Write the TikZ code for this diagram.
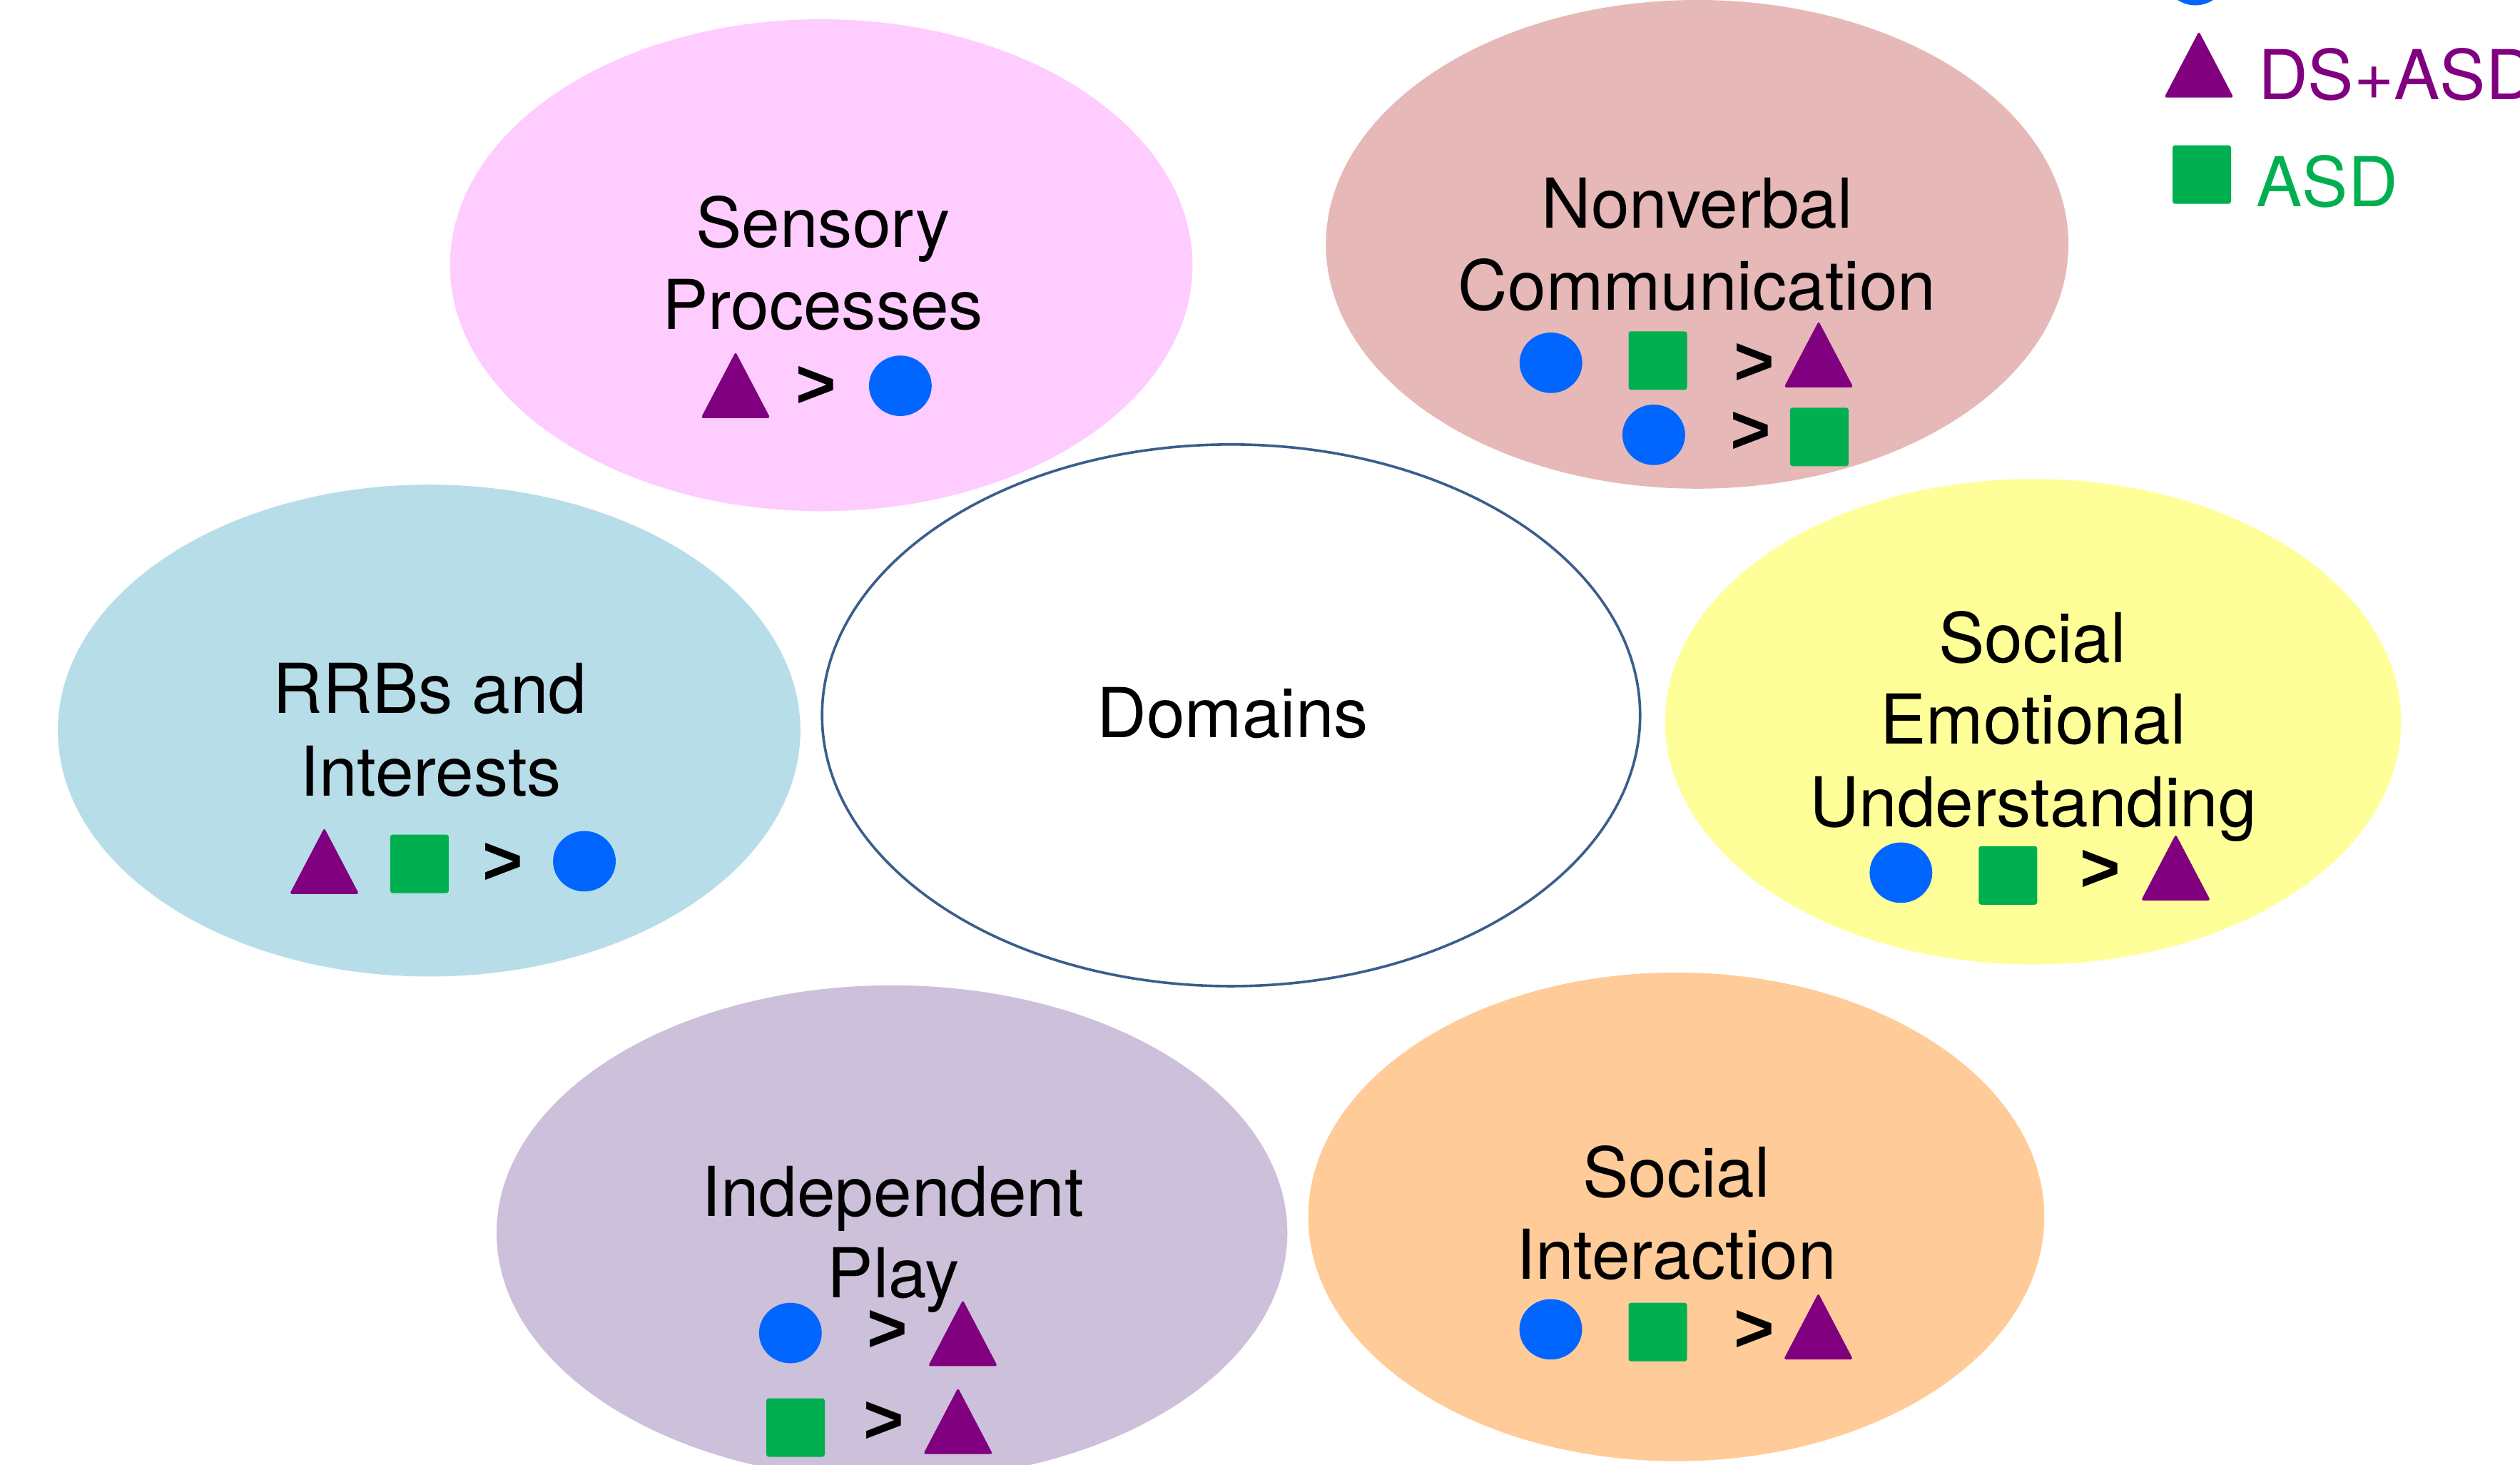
\documentclass[tikz,border=0pt]{standalone}
\usepackage{fontspec}
\setmainfont{TeX Gyre Heros}
\newfontfamily\gtfont{Liberation Sans}
\usetikzlibrary{shapes.geometric}

\definecolor{senscol}{RGB}{255,204,255}
\definecolor{nonvcol}{RGB}{230,184,183}
\definecolor{rrbcol}{RGB}{183,222,232}
\definecolor{semocol}{RGB}{255,255,153}
\definecolor{playcol}{RGB}{204,192,218}
\definecolor{sintcol}{RGB}{255,204,153}
\definecolor{domline}{RGB}{58,94,140}
\definecolor{dsblue}{RGB}{0,102,255}
\definecolor{asdgreen}{RGB}{0,176,80}
\definecolor{dsasdpurple}{RGB}{128,0,128}

\tikzset{
  blob/.style={ellipse, inner sep=0pt, draw=none},
  lbl/.style={anchor=base, inner sep=0pt, font=\fontsize{42.8}{51}\selectfont},
  gtsign/.style={inner sep=0pt, font=\gtfont\fontsize{43}{51}\selectfont\bfseries},
  legtext/.style={anchor=base west, inner sep=0pt, font=\fontsize{42.8}{51}\selectfont},
  dsdot/.pic={\fill[dsblue] (0,0) ellipse [x radius=19.5pt, y radius=18.8pt];},
  asdsq/.pic={\fill[asdgreen, rounded corners=1.5pt] (-18.2,-18.2) rectangle (18.2,18.2);},
  dsasdtri/.pic={\fill[dsasdpurple, rounded corners=1.5pt] (0,-20.6) -- (21.6,20.6) -- (-21.6,20.6) -- cycle;}
}

\begin{document}
\begin{tikzpicture}[x=1pt, y=-1pt]
  \useasboundingbox (0,0) rectangle (1568,911);
  \clip (0,0) rectangle (1568,911);
  \fill[white] (0,0) rectangle (1568,911);

  % domain ellipses
  \node[blob, fill=senscol, minimum width=462pt, minimum height=306pt] (sens) at (511,165) {};
  \node[blob, fill=nonvcol, minimum width=462pt, minimum height=304pt] (nonv) at (1056,152) {};
  \node[blob, fill=rrbcol, minimum width=462pt, minimum height=306pt] (rrb) at (267,454.5) {};
  \node[blob, fill=semocol, minimum width=458pt, minimum height=302pt] (semo) at (1265,449) {};
  \node[blob, fill=playcol, minimum width=492pt, minimum height=308pt] (play) at (555,767) {};
  \node[blob, fill=sintcol, minimum width=458pt, minimum height=304pt] (sint) at (1043,757) {};
  \node[ellipse, inner sep=0pt, draw=domline, line width=1.6pt, fill=white,
        minimum width=509pt, minimum height=337pt] (dom) at (766,445) {};

  % labels
  \node[lbl] (domt) at (767,459) {Domains};

  \node[lbl] (senst1) at (512,154) {Sensory};
  \node[lbl] (senst2) at (512,205) {Processes};

  \node[lbl] (nonvt1) at (1056,142) {Nonverbal};
  \node[lbl] (nonvt2) at (1056,193) {Communication};

  \node[lbl] (rrbt1) at (267.5,443.5) {RRBs and};
  \node[lbl] (rrbt2) at (268,495) {Interests};

  \node[lbl] (semot1) at (1264.5,412) {Social};
  \node[lbl] (semot2) at (1265,463) {Emotional};
  \node[lbl] (semot3) at (1265,514.5) {Understanding};

  \node[lbl] (playt1) at (555.5,756.5) {Independent};
  \node[lbl] (playt2) at (556,807.5) {Play};

  \node[lbl] (sintt1) at (1043,744.6) {Social};
  \node[lbl] (sintt2) at (1043,795.7) {Interaction};

  % comparison rows
  \pic at (457.7,239.5) {dsasdtri};
  \node[gtsign] (gt1) at (507.8,241) {>};
  \pic at (560.2,240) {dsdot};

  \pic at (965,225.7) {dsdot};
  \pic at (1031.5,224.3) {asdsq};
  \node[gtsign] (gt2) at (1091.5,226.8) {>};
  \pic at (1131.6,220.4) {dsasdtri};
  \pic at (1029,270.5) {dsdot};
  \node[gtsign] (gt3) at (1089.3,269.3) {>};
  \pic at (1132,271.8) {asdsq};

  \pic at (201.8,535.6) {dsasdtri};
  \pic at (261,537.4) {asdsq};
  \node[gtsign] (gt4) at (312.8,537.4) {>};
  \pic at (363.6,535.8) {dsdot};

  \pic at (1182.8,542.9) {dsdot};
  \pic at (1249.4,544.6) {asdsq};
  \node[gtsign] (gt5) at (1306.8,541.6) {>};
  \pic at (1353.8,539.6) {dsasdtri};

  \pic at (491.8,829.3) {dsdot};
  \node[gtsign] (gt6) at (552.2,828.1) {>};
  \pic at (599.1,829.3) {dsasdtri};
  \pic at (495,888.1) {asdsq};
  \node[gtsign] (gt7) at (549.8,884.9) {>};
  \pic at (596.1,884) {dsasdtri};

  \pic at (964.9,827) {dsdot};
  \pic at (1031.5,828.7) {asdsq};
  \node[gtsign] (gt8) at (1091.5,828.1) {>};
  \pic at (1131.4,825.1) {dsasdtri};

  % legend
  \pic at (1366,-15.5) {dsdot};
  \pic at (1368.2,40.1) {dsasdtri};
  \node[legtext, text=dsasdpurple] (legds) at (1405,61.9) {DS+ASD};
  \pic at (1370,108.6) {asdsq};
  \node[legtext, text=asdgreen] (legasd) at (1403.7,128.4) {ASD};
\end{tikzpicture}
\end{document}
